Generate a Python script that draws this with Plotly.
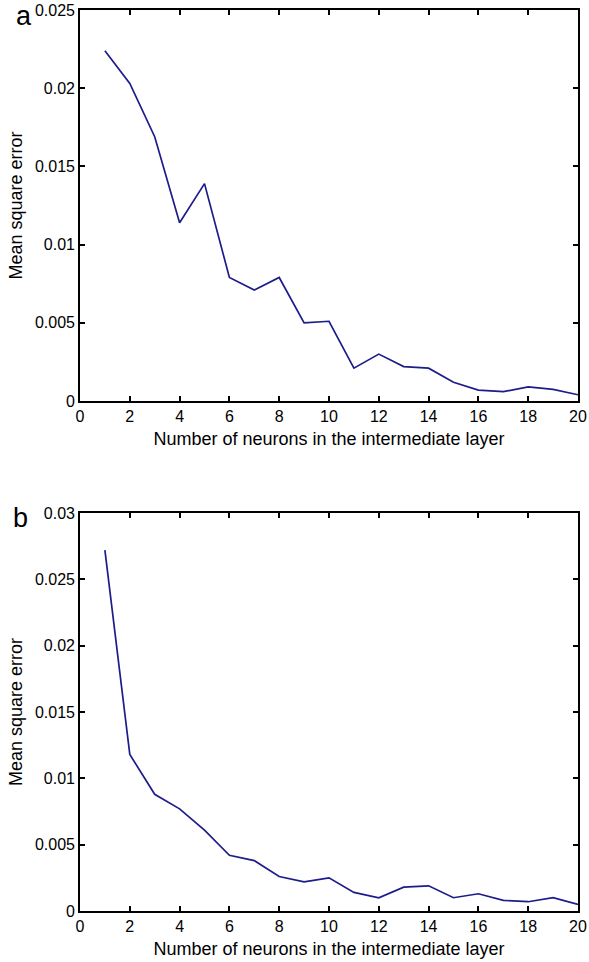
import plotly.graph_objects as go

neurons = list(range(1, 21))
mse_a = [0.0224, 0.0203, 0.0169, 0.0114, 0.0139, 0.0079, 0.0071, 0.0079, 0.0050, 0.0051,
         0.0021, 0.0030, 0.0022, 0.0021, 0.0012, 0.0007, 0.0006, 0.0009, 0.00075, 0.0004]
mse_b = [0.0272, 0.0118, 0.0088, 0.0077, 0.0061, 0.0042, 0.0038, 0.0026, 0.0022, 0.0025,
         0.0014, 0.0010, 0.0018, 0.0019, 0.0010, 0.0013, 0.0008, 0.0007, 0.0010, 0.0005]
xticks = list(range(0, 21, 2))
yticks_a = [0, 0.005, 0.01, 0.015, 0.02, 0.025]
yticks_b = [0, 0.005, 0.01, 0.015, 0.02, 0.025, 0.03]
xlabel = "Number of neurons in the intermediate layer"
ylabel = "Mean square error"

fig = go.Figure()
line_color = "#1c1c8a"
fig.add_trace(go.Scatter(x=neurons, y=mse_a, mode="lines", xaxis="x", yaxis="y",
                         line=dict(color=line_color, width=1.7), showlegend=False))
fig.add_trace(go.Scatter(x=neurons, y=mse_b, mode="lines", xaxis="x2", yaxis="y2",
                         line=dict(color=line_color, width=1.7), showlegend=False))

fam = "Liberation Sans, Arial, sans-serif"
font = dict(family=fam, size=16, color="black")
tfont = dict(family=fam, size=18, color="black")
axcommon = dict(showline=True, linecolor="black", linewidth=1.6, mirror="ticks",
                ticks="inside", ticklen=5, tickwidth=1.5, tickcolor="black",
                showgrid=False, zeroline=False, tickfont=font, automargin=False)

fig.update_layout(
    width=589, height=962,
    margin=dict(l=80, r=11, t=10, b=51),
    plot_bgcolor="white", paper_bgcolor="white",
    xaxis=dict(domain=[0, 1], anchor="y", range=[0, 20], tickvals=xticks,
               title=dict(text=xlabel, font=tfont, standoff=8), **axcommon),
    yaxis=dict(domain=[0.566, 1.0], anchor="x", range=[0, 0.025], tickvals=yticks_a,
               ticktext=[str(v) if v else "0" for v in yticks_a],
               title=dict(text=ylabel, font=tfont, standoff=8), **axcommon),
    xaxis2=dict(domain=[0, 1], anchor="y2", range=[0, 20], tickvals=xticks,
                title=dict(text=xlabel, font=tfont, standoff=8), **axcommon),
    yaxis2=dict(domain=[0, 0.4417], anchor="x2", range=[0, 0.03], tickvals=yticks_b,
                ticktext=[str(v) if v else "0" for v in yticks_b],
                title=dict(text=ylabel, font=tfont, standoff=8), **axcommon),
)

# panel letters placed by pixel position, converted to paper coordinates
pw, ph = 589 - 80 - 11, 962 - 10 - 51
for letter, px, py in [("a", 24, 16), ("b", 20, 518)]:
    fig.add_annotation(text=letter, x=(px - 80) / pw, y=(911 - py) / ph,
                       xref="paper", yref="paper", showarrow=False,
                       xanchor="center", yanchor="middle",
                       font=dict(family=fam, size=27, color="black"))

fig.write_html("out.html")
